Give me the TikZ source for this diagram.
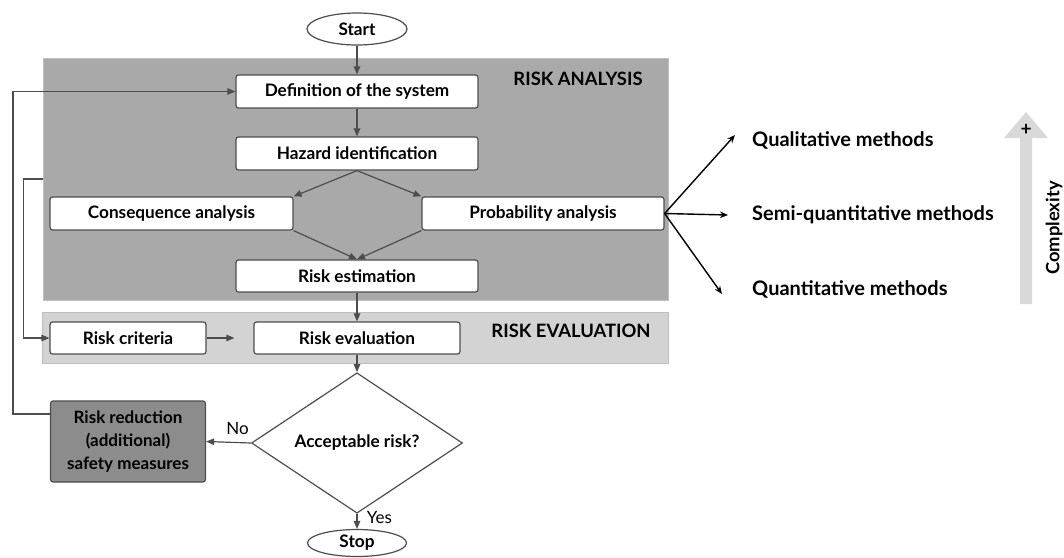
\documentclass[tikz,border=0pt]{standalone}
\usepackage{fontspec}
\setmainfont{Lato}
\usetikzlibrary{shapes.geometric,arrows.meta,positioning,calc}
\definecolor{linec}{HTML}{4D4D4D}
\definecolor{rafill}{HTML}{A9A9A9}
\definecolor{refill}{HTML}{D3D3D3}
\definecolor{redfill}{HTML}{8C8C8C}
\definecolor{cxfill}{HTML}{D9D9D9}
\tikzset{
  boxtext/.style={font=\fontsize{17.2}{20}\selectfont\bfseries},
  stepbox/.style={draw=linec, fill=white, rounded corners=2.5pt, line width=1.2pt, inner sep=0pt, boxtext},
  term/.style={ellipse, draw=linec, fill=white, line width=1.2pt, inner sep=0pt, boxtext},
  region/.style={inner sep=0pt, draw=black!25, line width=0.6pt},
  title/.style={font=\fontsize{18.4}{21}\selectfont\bfseries},
  method/.style={font=\fontsize{20}{23}\selectfont\bfseries, anchor=west, inner sep=0pt},
  flow/.style={draw=linec, line width=1.2pt, -{Triangle[length=8pt,width=6.5pt]}},
  marr/.style={draw=black, line width=1.4pt, -{Stealth[length=8pt,width=6.5pt]}},
}
\begin{document}
\begin{tikzpicture}[x=1pt,y=-1pt]
\useasboundingbox (0,0) rectangle (1064,557);
% regions
\node[region, fill=rafill, minimum width=625, minimum height=242] (ra) at (355.5,179) {};
\node[region, fill=refill, minimum width=626, minimum height=51] (re) at (355,337.5) {};
\node[title] (rat) at (578,79) {RISK ANALYSIS};
\node[title] (ret) at (571,331) {RISK EVALUATION};
% nodes
\node[term, minimum width=100, minimum height=32] (start) at (357,29) {Start};
\node[stepbox, minimum width=242, minimum height=33] (def) at (357,91.5) {Definition of the system};
\node[stepbox, minimum width=242, minimum height=33] (haz) at (357,153.5) {Hazard identification};
\node[stepbox, minimum width=243, minimum height=33] (con) at (171.5,213.5) {Consequence analysis};
\node[stepbox, minimum width=242, minimum height=33] (pro) at (543,213.5) {Probability analysis};
\node[stepbox, minimum width=242, minimum height=32] (est) at (357,276) {Risk estimation};
\node[stepbox, minimum width=156, minimum height=32] (cri) at (128,338) {Risk criteria};
\node[stepbox, minimum width=206, minimum height=32] (eva) at (357,338) {Risk evaluation};
\node[diamond, draw=linec, fill=white, line width=1.2pt, inner sep=0pt, minimum width=211, minimum height=116, boxtext] (acc) at (357,443) {Acceptable risk?};
\node[stepbox, fill=redfill, minimum width=155, minimum height=81, align=center, font=\fontsize{17}{23}\selectfont\bfseries] (red) at (128,441.5) {Risk reduction\\(additional)\\safety measures};
\node[term, minimum width=99, minimum height=27] (stop) at (357,543) {Stop};
% connectors
\draw[flow] (start) -- (def);
\draw[flow] (def) -- (haz);
\draw[flow] (haz.south) -- (con.north east);
\draw[flow] (haz.south) -- (pro.north west);
\draw[flow] (con.south east) -- (est.north);
\draw[flow] (pro.south west) -- (est.north);
\draw[flow] (est) -- (eva);
\draw[flow, shorten >=19pt] (cri) -- (eva);
\draw[flow] (eva) -- (acc);
\draw[flow] (acc.west) -- node[above=4pt, pos=0.3, boxtext, font=\fontsize{17}{20}\selectfont] (no) {No} (red.east);
\draw[flow] (acc.south) -- node[right=6pt, pos=0.25, boxtext, font=\fontsize{17}{20}\selectfont] (yes) {Yes} (stop.north);
\draw[flow] ([yshift=27.5pt]red.west) -- ++(-37,0) |- (def.west);
\draw[flow] (ra.west) -- ++(-19,0) |- (cri.west);
% methods
\node[method] (qual) at (752,140) {Qualitative methods};
\node[method] (semi) at (752,215) {Semi-quantitative methods};
\node[method] (quan) at (752,289) {Quantitative methods};
\coordinate (qt) at (735,135);
\coordinate (st) at (728,215);
\coordinate (nt) at (722,294);
\draw[marr] (pro.east) -- (qt);
\draw[marr] (pro.east) -- (st);
\draw[marr] (pro.east) -- (nt);
% complexity arrow
\fill[cxfill] (1020,304) -- (1020,138) -- (1004,138) -- (1026,112) -- (1048,138) -- (1032,138) -- (1032,304) -- cycle;
\node[font=\fontsize{19}{20}\selectfont\bfseries] (plus) at (1026,130) {+};
\node[rotate=90, font=\fontsize{18.4}{20}\selectfont\bfseries] (cx) at (1054,228) {Complexity};
\end{tikzpicture}
\end{document}
